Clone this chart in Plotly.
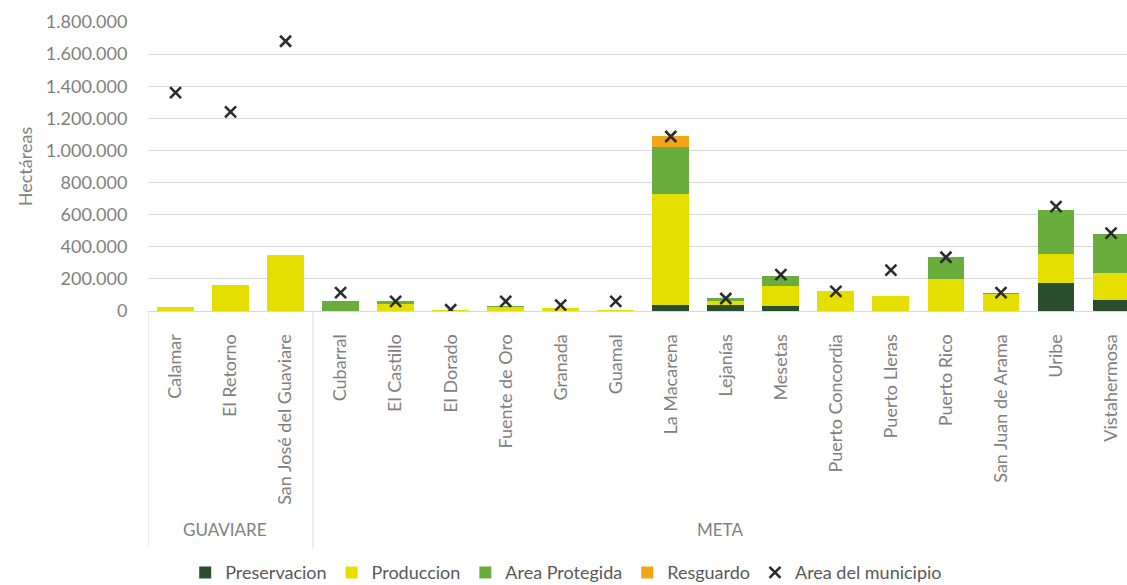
import plotly.graph_objects as go

# Municipios agrupados por departamento
departamentos = ["GUAVIARE"] * 3 + ["META"] * 15
municipios = [
    "Calamar", "El Retorno", "San José del Guaviare",
    "Cubarral", "El Castillo", "El Dorado", "Fuente de Oro", "Granada",
    "Guamal", "La Macarena", "Lejanías", "Mesetas", "Puerto Concordia",
    "Puerto Lleras", "Puerto Rico", "San Juan de Arama", "Uribe", "Vistahermosa",
]

# Hectáreas por categoría de zonificación
preservacion = [0, 0, 0, 0, 0, 0, 0, 0, 0, 40000, 35000, 29000, 0, 0, 0, 0, 175000, 66000]
produccion = [28000, 164000, 346000, 2000, 45000, 3000, 25000, 20000, 2000,
              687000, 28000, 125000, 122000, 96000, 200000, 108000, 177000, 171000]
area_protegida = [0, 0, 0, 58000, 15000, 0, 4000, 0, 0,
                  292000, 18000, 67000, 0, 0, 135000, 4000, 277000, 240000]
resguardo = [0, 0, 0, 0, 0, 0, 0, 0, 0, 68000, 0, 0, 0, 0, 0, 0, 0, 0]
area_municipio = [1360000, 1240000, 1680000, 114000, 60000, 8000, 60000, 37000, 60000,
                  1087000, 78000, 227000, 122000, 255000, 335000, 114000, 650000, 485000]

y_ticks = list(range(0, 1800001, 200000))

FONT = "Lato"
GRAY = "#808080"
x = list(range(len(municipios)))

fig = go.Figure()
series = [
    ("Preservacion", preservacion, "#2a4d2c"),
    ("Produccion", produccion, "#e5df00"),
    ("Area Protegida", area_protegida, "#6aad3d"),
    ("Resguardo", resguardo, "#f2a516"),
]
for name, vals, color in series:
    fig.add_trace(go.Bar(x=x, y=vals, name=name, marker=dict(color=color, line=dict(width=0))))

fig.add_trace(go.Scatter(
    x=x, y=area_municipio, name="Area del municipio", mode="markers",
    marker=dict(symbol="x-thin", size=11, line=dict(width=2.6, color="#2b2b2b")),
))

# Divisiones y rótulos de departamento bajo el eje de categorías
groups = []
for i, d in enumerate(departamentos):
    if not groups or groups[-1][0] != d:
        groups.append([d, i, i])
    else:
        groups[-1][2] = i

shapes = []
annotations = []
for d, i0, i1 in groups:
    shapes.append(dict(type="line", xref="x", yref="paper", x0=i0 - 0.5, x1=i0 - 0.5,
                       y0=0, y1=-0.82, line=dict(color="#d9d9d9", width=1)))
    annotations.append(dict(text=d, xref="x", yref="paper", x=(i0 + i1) / 2 - 0.1, y=-0.757,
                            showarrow=False, font=dict(family=FONT, size=17, color=GRAY),
                            xanchor="center", yanchor="middle"))

fig.update_layout(
    width=1127, height=585,
    margin=dict(l=148, r=0, t=22, b=274, autoexpand=False),
    paper_bgcolor="white", plot_bgcolor="white",
    barmode="stack", bargap=0.33,
    separators=",.",
    font=dict(family=FONT, size=18, color=GRAY),
    showlegend=True,
    legend=dict(orientation="h", x=0.038, xanchor="left",
                yref="container", y=0.021, yanchor="middle",
                font=dict(family=FONT, size=18, color="#595959"),
                itemwidth=30, traceorder="normal"),
    shapes=shapes,
    annotations=annotations,
)
fig.update_xaxes(
    range=[-0.5, 17.29], tickmode="array", tickvals=x, ticktext=municipios,
    tickangle=-90, tickfont=dict(family=FONT, size=18, color=GRAY),
    ticks="outside", ticklen=15, tickcolor="rgba(0,0,0,0)", automargin=False,
    showline=True, linecolor="#d9d9d9", linewidth=1, showgrid=False, zeroline=False,
)
fig.update_yaxes(
    range=[0, 1800000], tickmode="array", tickvals=y_ticks, tickformat=",d",
    tickfont=dict(family=FONT, size=18, color=GRAY),
    ticks="outside", ticklen=16, tickcolor="rgba(0,0,0,0)", automargin=False,
    showgrid=True, gridcolor="#d9d9d9", gridwidth=1,
    zeroline=True, zerolinecolor="#d9d9d9", zerolinewidth=1,
    title=dict(text="Hectáreas", font=dict(family=FONT, size=18, color=GRAY), standoff=8),
)

fig.write_html("out.html")
